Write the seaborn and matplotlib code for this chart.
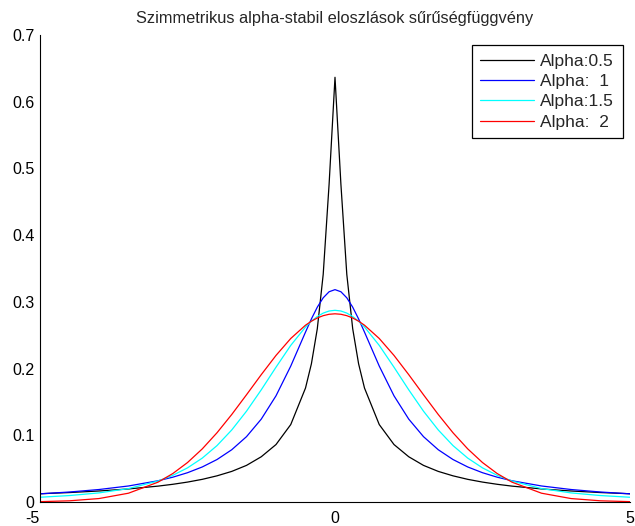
import matplotlib
matplotlib.use("Agg")
import matplotlib.pyplot as plt
import seaborn as sns
import pandas as pd

# x grid
x = [-5, -4.5, -4, -3.5, -3, -2.75, -2.5, -2.25, -2, -1.75, -1.5, -1.25, -1, -0.75, -0.5, -0.4, -0.3, -0.2, -0.1,
     0, 0.1, 0.2, 0.3, 0.4, 0.5, 0.75, 1, 1.25, 1.5, 1.75, 2, 2.25, 2.5, 2.75, 3, 3.5, 4, 4.5, 5]

alpha_05 = [0.01235, 0.01417, 0.01651, 0.01959, 0.02380, 0.02653, 0.02985, 0.03396, 0.03922, 0.04587, 0.05488,
            0.06781, 0.08612, 0.11607, 0.17079, 0.20712, 0.25973, 0.34119, 0.47641,
            0.63662,
            0.47641, 0.34119, 0.25973, 0.20712, 0.17079, 0.11607, 0.08612, 0.06781, 0.05488, 0.04587, 0.03922,
            0.03396, 0.02985, 0.02653, 0.02380, 0.01959, 0.01651, 0.01417, 0.01235]

alpha_1 = [0.01224, 0.01498, 0.01872, 0.02402, 0.03183, 0.03717, 0.04390, 0.05251, 0.06366, 0.07835, 0.09794,
           0.12422, 0.15915, 0.20372, 0.25465, 0.27441, 0.29203, 0.30607, 0.31516,
           0.31831,
           0.31516, 0.30607, 0.29203, 0.27441, 0.25465, 0.20372, 0.15915, 0.12422, 0.09794, 0.07835, 0.06366,
           0.05251, 0.04390, 0.03717, 0.03183, 0.02402, 0.01872, 0.01498, 0.01224]

alpha_15 = [0.00711, 0.00967, 0.01364, 0.02010, 0.03143, 0.03994, 0.05114, 0.06576, 0.08454, 0.10799, 0.13613,
            0.16813, 0.20204, 0.23473, 0.26230, 0.27099, 0.27800, 0.28315, 0.28629,
            0.28735,
            0.28629, 0.28315, 0.27800, 0.27099, 0.26230, 0.23473, 0.20204, 0.16813, 0.13613, 0.10799, 0.08454,
            0.06576, 0.05114, 0.03994, 0.03143, 0.02010, 0.01364, 0.00967, 0.00711]

alpha_2 = [0.00054, 0.00179, 0.00517, 0.01319, 0.02973, 0.04259, 0.05913, 0.07957, 0.10378, 0.13118, 0.16073,
           0.19087, 0.21970, 0.24509, 0.26500, 0.27103, 0.27582, 0.27929, 0.28139,
           0.28209,
           0.28139, 0.27929, 0.27582, 0.27103, 0.26500, 0.24509, 0.21970, 0.19087, 0.16073, 0.13118, 0.10378,
           0.07957, 0.05913, 0.04259, 0.02973, 0.01319, 0.00517, 0.00179, 0.00054]

labels = ["Alpha:0.5", "Alpha:  1", "Alpha:1.5", "Alpha:  2"]
colors = ["#000000", "#0000ff", "#00ffff", "#ff0000"]
title = "Szimmetrikus alpha-stabil eloszlások sűrűségfüggvény"
xticks = [-5, 0, 5]
yticks = [0, 0.1, 0.2, 0.3, 0.4, 0.5, 0.6, 0.7]

sns.set_theme(style="white")
plt.rcParams["font.family"] = ["Liberation Sans", "DejaVu Sans"]

fig = plt.figure(figsize=(6.35, 5.26), dpi=100)
ax = fig.add_axes([40 / 635, 24 / 526, 590 / 635, 467 / 526])

for vals, lab, col in zip([alpha_05, alpha_1, alpha_15, alpha_2], labels, colors):
    df = pd.DataFrame({"x": x, "y": vals})
    sns.lineplot(data=df, x="x", y="y", ax=ax, color=col, label=lab, linewidth=0.9,
                 sort=False, estimator=None)

ax.set_xlim(-5, 5)
ax.set_ylim(0, 0.7)
ax.set_xticks(xticks)
ax.set_yticks(yticks)
ax.set_xticklabels(["-5", "0", "5"])
ax.set_yticklabels(["0", "0.1", "0.2", "0.3", "0.4", "0.5", "0.6", "0.7"])
ax.set_xlabel("")
ax.set_ylabel("")
ax.tick_params(direction="in", length=4, width=0.7, colors="black", labelsize=11.5)
ax.tick_params(axis="y", pad=4)
ax.tick_params(axis="x", pad=6.5)
ax.get_xticklabels()[0].set_horizontalalignment("right")
for s in ["top", "right"]:
    ax.spines[s].set_visible(False)
for s in ["left", "bottom"]:
    ax.spines[s].set_color("black")
    ax.spines[s].set_linewidth(0.8)
ax.set_title(title, fontsize=11.8, pad=9)

leg = ax.legend(loc="upper right", bbox_to_anchor=(0.988, 0.979), borderaxespad=0,
                fontsize=12.5, frameon=True, fancybox=False, handlelength=3.1,
                handletextpad=0.35, labelspacing=0.3, borderpad=0.5)
leg.get_frame().set_edgecolor("black")
leg.get_frame().set_linewidth(0.9)
leg.get_frame().set_alpha(1)

fig.savefig("out.png", dpi=100)
